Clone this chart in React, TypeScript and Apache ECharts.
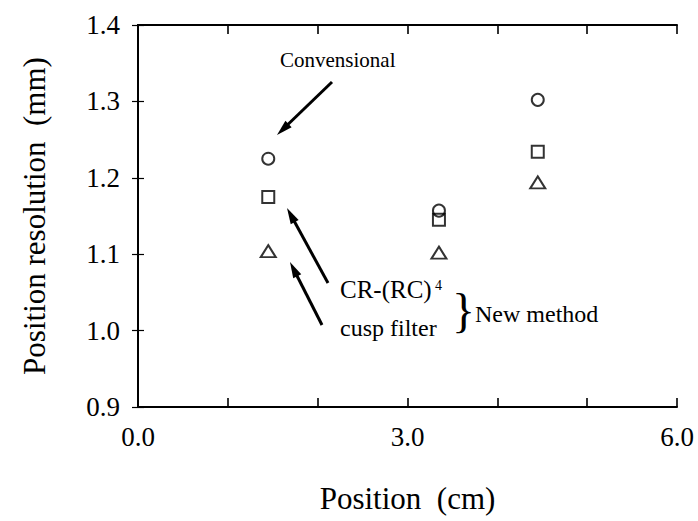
import React, { useEffect, useRef } from "react";
import * as echarts from "echarts";

const positions = [1.45, 3.35, 4.45];
const conventional = [1.225, 1.157, 1.302];
const crrc4 = [1.175, 1.145, 1.234];
const cusp = [1.104, 1.102, 1.194];
const xTickLabels = ["0.0", "3.0", "6.0"];

const FONT = "'Liberation Serif', 'DejaVu Serif', serif";

function arrow(x1: number, y1: number, x2: number, y2: number) {
  const dx = x2 - x1, dy = y2 - y1;
  const len = Math.sqrt(dx * dx + dy * dy);
  const ux = dx / len, uy = dy / len;
  const hl = 16, hw = 4.5;
  const bx = x2 - ux * hl, by = y2 - uy * hl;
  return [
    { type: "line", shape: { x1, y1, x2: bx + ux * 2, y2: by + uy * 2 }, style: { stroke: "#000", lineWidth: 3 } },
    {
      type: "polygon",
      shape: { points: [[x2, y2], [bx - uy * hw, by + ux * hw], [bx + uy * hw, by - ux * hw]] },
      style: { fill: "#000" },
    },
  ];
}

export default function App() {
  const ref = useRef<HTMLDivElement>(null);
  useEffect(() => {
    const chart = echarts.init(ref.current!, null, { renderer: "svg" });
    const mk = (d: number[]) => d.map((v, i) => [positions[i], v]);
    const markerStyle = { color: "transparent", borderColor: "#000", borderWidth: 2 };
    const axisCommon = {
      axisLine: { show: true, lineStyle: { color: "#000", width: 2 } },
      splitLine: { show: false },
    };
    chart.setOption({
      animation: false,
      backgroundColor: "#fff",
      grid: { left: 138, right: 21, top: 25, bottom: 114 },
      xAxis: [
        {
          type: "value", min: 0, max: 6, interval: 1, position: "bottom",
          ...axisCommon,
          axisTick: { show: true, inside: true, length: 9, lineStyle: { color: "#000", width: 1.6 } },
          axisLabel: {
            color: "#000", fontFamily: FONT, fontSize: 27, margin: 16,
            formatter: (v: number) => (Math.abs(v % 3) < 1e-9 ? xTickLabels[Math.round(v / 3)] : ""),
          },
          name: "Position  (cm)", nameLocation: "middle", nameGap: 76,
          nameTextStyle: { color: "#000", fontFamily: FONT, fontSize: 31 },
        },
        {
          type: "value", min: 0, max: 6, interval: 1, position: "top",
          ...axisCommon,
          axisTick: { show: true, inside: true, length: 9, lineStyle: { color: "#000", width: 1.6 } },
          axisLabel: { show: false },
        },
      ],
      yAxis: [
        {
          type: "value", min: 0.9, max: 1.4, interval: 0.1, position: "left",
          ...axisCommon,
          axisTick: { show: true, inside: true, length: 6, lineStyle: { color: "#000", width: 1.2 } },
          axisLabel: { color: "#000", fontFamily: FONT, fontSize: 27, margin: 18, formatter: (v: number) => v.toFixed(1) },
          name: "Position resolution  (mm)", nameLocation: "middle", nameGap: 88,
          nameTextStyle: { color: "#000", fontFamily: FONT, fontSize: 31 },
        },
        {
          type: "value", min: 0.9, max: 1.4, interval: 0.1, position: "right",
          ...axisCommon,
          axisTick: { show: true, inside: true, length: 6, lineStyle: { color: "#000", width: 1.2 } },
          axisLabel: { show: false },
        },
      ],
      series: [
        { name: "Convensional", type: "scatter", symbol: "circle", symbolSize: 12, data: mk(conventional), itemStyle: markerStyle },
        { name: "CR-(RC)4", type: "scatter", symbol: "rect", symbolSize: 12, data: mk(crrc4), itemStyle: markerStyle },
        { name: "cusp filter", type: "scatter", symbol: "triangle", symbolSize: [15, 12], data: mk(cusp), itemStyle: markerStyle },
      ],
      graphic: [
        { type: "text", left: 280, top: 49, style: { text: "Convensional", font: `21px ${FONT}`, fill: "#000" } },
        ...arrow(332, 82, 277, 135),
        ...arrow(328, 283, 287, 208),
        ...arrow(322, 325, 290, 262),
        { type: "text", left: 340, top: 277, style: { text: "CR-(RC)", font: `25px ${FONT}`, fill: "#000" } },
        { type: "text", left: 435, top: 278, style: { text: "4", font: `14px ${FONT}`, fill: "#000" } },
        { type: "text", left: 340, top: 316, style: { text: "cusp filter", font: `24px ${FONT}`, fill: "#000" } },
        { type: "text", left: 452, top: 286, style: { text: "}", font: `48px ${FONT}`, fill: "#000" } },
        { type: "text", left: 475, top: 302, style: { text: "New method", font: `24px ${FONT}`, fill: "#000" } },
      ],
    });
    return () => chart.dispose();
  }, []);
  return <div ref={ref} style={{ width: 698, height: 521, position: "absolute", left: 0, top: 0 }} />;
}
